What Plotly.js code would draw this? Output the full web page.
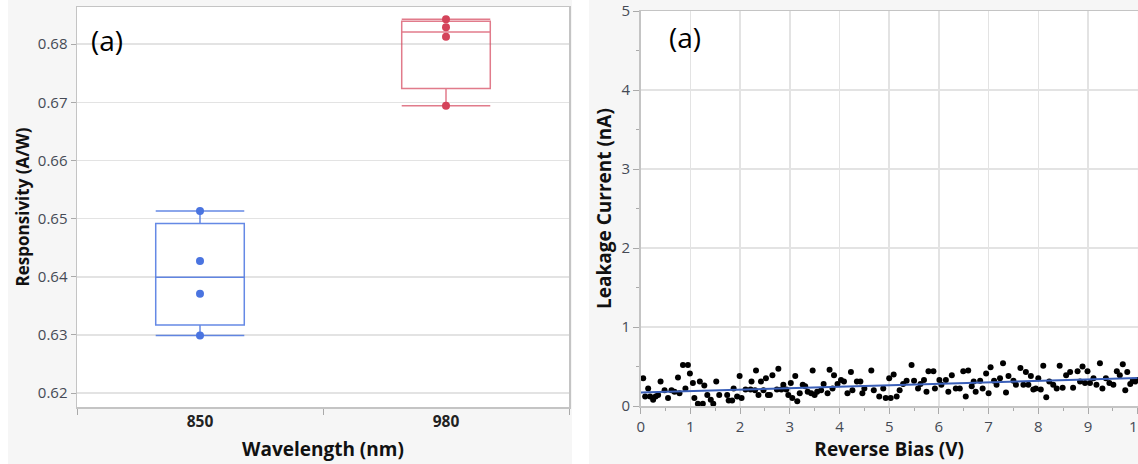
<!DOCTYPE html>
<html>
<head>
<meta charset="utf-8">
<script src="https://cdn.plot.ly/plotly-3.0.1.min.js"></script>
<style>
html,body{margin:0;padding:0;background:#fff;overflow:hidden;}
#chart{width:1138px;height:464px;}
</style>
</head>
<body>
<div id="chart"></div>
<script>
// ---- Data ----
var wavelengths = ['850', '980'];
var resp850 = [0.6513, 0.6427, 0.6371, 0.6299];
var resp980 = [0.6843, 0.6829, 0.6813, 0.6694];

var biasV = [0.05,0.09,0.15,0.19,0.25,0.30,0.35,0.40,0.48,0.55,0.62,0.68,0.75,0.78,0.85,0.90,0.95,0.99,
  1.05,1.08,1.15,1.19,1.25,1.28,1.34,1.41,1.46,1.52,1.58,1.74,1.77,1.84,1.87,1.94,1.99,
  2.03,2.11,2.21,2.23,2.30,2.32,2.37,2.42,2.47,2.52,2.56,2.60,2.65,2.74,2.77,2.83,2.87,2.93,2.97,
  3.02,3.05,3.11,3.15,3.20,3.26,3.31,3.36,3.43,3.46,3.50,3.55,3.63,3.68,3.76,3.80,3.86,3.89,3.96,
  4.03,4.09,4.16,4.23,4.26,4.35,4.42,4.46,4.50,4.64,4.69,4.80,4.88,4.93,
  5.00,5.03,5.09,5.15,5.21,5.28,5.35,5.45,5.50,5.58,5.63,5.70,5.75,5.79,5.89,5.92,
  6.01,6.05,6.14,6.19,6.26,6.34,6.42,6.49,6.54,6.59,6.66,6.70,6.74,6.83,6.88,6.95,
  7.00,7.04,7.11,7.16,7.23,7.29,7.35,7.40,7.50,7.55,7.64,7.70,7.75,7.80,7.85,7.90,7.95,
  8.00,8.05,8.10,8.16,8.22,8.30,8.37,8.43,8.49,8.56,8.64,8.70,8.79,8.84,8.89,8.94,8.99,
  9.04,9.11,9.17,9.24,9.29,9.36,9.43,9.51,9.58,9.64,9.70,9.75,9.79,9.85,9.90,9.95,10.0];
var leakNA = [0.35,0.12,0.22,0.12,0.08,0.12,0.14,0.31,0.20,0.10,0.20,0.18,0.36,0.16,0.52,0.22,0.52,0.41,
  0.29,0.10,0.03,0.31,0.03,0.26,0.14,0.08,0.03,0.31,0.14,0.14,0.07,0.07,0.22,0.12,0.38,
  0.10,0.21,0.21,0.31,0.20,0.45,0.14,0.31,0.20,0.35,0.14,0.14,0.39,0.21,0.47,0.21,0.27,0.21,0.14,
  0.29,0.10,0.38,0.06,0.16,0.27,0.25,0.18,0.16,0.45,0.14,0.18,0.20,0.28,0.16,0.46,0.22,0.39,0.28,
  0.33,0.31,0.16,0.43,0.20,0.31,0.31,0.16,0.22,0.45,0.20,0.12,0.22,0.10,
  0.35,0.10,0.40,0.12,0.20,0.28,0.32,0.52,0.32,0.22,0.28,0.33,0.18,0.44,0.44,0.22,
  0.33,0.27,0.33,0.18,0.39,0.22,0.22,0.44,0.12,0.45,0.25,0.31,0.18,0.32,0.22,0.41,
  0.16,0.49,0.32,0.27,0.35,0.54,0.17,0.38,0.32,0.27,0.48,0.27,0.43,0.27,0.38,0.21,0.22,
  0.35,0.21,0.51,0.11,0.31,0.27,0.22,0.51,0.23,0.39,0.43,0.23,0.44,0.31,0.50,0.29,0.44,
  0.29,0.35,0.27,0.54,0.22,0.35,0.29,0.27,0.44,0.39,0.53,0.20,0.43,0.28,0.32,0.31,0.33];

// fitted line endpoints
var fitX = [0, 10];
var fitY = [0.17, 0.355];

// ---- helpers ----
function quant(arr, p) { // (n+1)p positions, linear interpolation
  var s = arr.slice().sort(function(a,b){return a-b;});
  var n = s.length, pos = (n + 1) * p;
  if (pos <= 1) return s[0];
  if (pos >= n) return s[n-1];
  var lo = Math.floor(pos), f = pos - lo;
  return s[lo-1] + f * (s[lo] - s[lo-1]);
}
function stats(arr) {
  return {q1: quant(arr, 0.25), med: quant(arr, 0.5), q3: quant(arr, 0.75),
          lo: Math.min.apply(null, arr), hi: Math.max.apply(null, arr)};
}

var blue = '#4a74e0', blueLine = 'rgba(74,116,224,0.85)';
var red = '#d4435a', redLine = 'rgba(212,67,90,0.7)';

var s1 = stats(resp850), s2 = stats(resp980);
function boxTrace(cat, s, lc) {
  return {type:'box', x:[cat], q1:[s.q1], median:[s.med], q3:[s.q3],
    lowerfence:[s.lo], upperfence:[s.hi], width:0.36, whiskerwidth:1,
    boxpoints:false, fillcolor:'rgba(255,255,255,0)', line:{color:lc, width:1.5},
    xaxis:'x', yaxis:'y', showlegend:false, hoverinfo:'skip'};
}
function ptsTrace(cat, arr, c) {
  return {type:'scatter', mode:'markers', x:arr.map(function(){return cat;}), y:arr,
    marker:{color:c, size:8}, xaxis:'x', yaxis:'y', showlegend:false, hoverinfo:'skip'};
}

var traces = [
  boxTrace(wavelengths[0], s1, blueLine),
  boxTrace(wavelengths[1], s2, redLine),
  ptsTrace(wavelengths[0], resp850, blue),
  ptsTrace(wavelengths[1], resp980, red),
  {type:'scatter', mode:'markers', x:biasV, y:leakNA, marker:{color:'#000', size:6},
   xaxis:'x2', yaxis:'y2', showlegend:false, hoverinfo:'skip', cliponaxis:false},
  {type:'scatter', mode:'lines', x:fitX, y:fitY, line:{color:'#3a5fb8', width:2},
   xaxis:'x2', yaxis:'y2', showlegend:false, hoverinfo:'skip'}
];

var W = 1138, H = 464;
var FAM = 'Open Sans, Noto Sans, sans-serif';
var tickFont = {family:FAM, size:15, color:'#454a55'};

var layout = {
  width:W, height:H,
  margin:{l:0, r:0, t:0, b:0},
  paper_bgcolor:'#f6f6f6', plot_bgcolor:'#ffffff',
  showlegend:false,
  xaxis:{domain:[77/W, 569/W], type:'category', categoryorder:'array', categoryarray:wavelengths,
    range:[-0.5, 1.5], tickson:'boundaries', ticks:'outside', ticklen:6, tickcolor:'#aaa',
    showgrid:false, showline:true, mirror:true, linecolor:'#c4c4c4', linewidth:1.5,
    tickfont:{family:FAM, size:15.5, color:'#222', weight:'bold'},
    title:{text:'Wavelength (nm)', font:{family:FAM, size:19, color:'#111', weight:'bold'}, standoff:11},
    anchor:'y', zeroline:false},
  yaxis:{domain:[1-407/H, 1-7/H], range:[0.6176, 0.6864], dtick:0.01, tick0:0.62,
    tickformat:'.2f', ticks:'outside', ticklen:5, tickcolor:'#aaa',
    showgrid:true, gridcolor:'#e3e3e3', gridwidth:1.5, zeroline:false,
    showline:true, mirror:true, linecolor:'#c4c4c4', linewidth:1.5,
    tickfont:tickFont, anchor:'x',
    title:{text:'Responsivity (A/W)', font:{family:FAM, size:17, color:'#111', weight:'bold'}, standoff:4}},
  xaxis2:{domain:[640.7/W, 1137.7/W], range:[0, 10], dtick:1, tick0:0, ticks:'outside', ticklen:6,
    tickcolor:'#aaa', minor:{dtick:0.5, ticklen:3, tickcolor:'#aaa', showgrid:false, ticks:'outside'},
    showgrid:true, gridcolor:'#e3e3e3', gridwidth:1.5, zeroline:false,
    showline:true, mirror:true, linecolor:'#c4c4c4', linewidth:1.5,
    tickfont:tickFont, anchor:'y2', ticklabeloverflow:'allow',
    title:{text:'Reverse Bias (V)', font:{family:FAM, size:19, color:'#111', weight:'bold'}, standoff:8}},
  yaxis2:{domain:[1-406/H, 1-11/H], range:[0, 5], dtick:1, tick0:0, ticks:'outside', ticklen:6,
    tickcolor:'#aaa', minor:{dtick:0.5, ticklen:3, tickcolor:'#aaa', showgrid:false, ticks:'outside'},
    showgrid:true, gridcolor:'#e3e3e3', gridwidth:1.5, zeroline:false,
    showline:true, mirror:true, linecolor:'#c4c4c4', linewidth:1.5,
    tickfont:tickFont, anchor:'x2',
    title:{text:'Leakage Current (nA)', font:{family:FAM, size:19, color:'#111', weight:'bold'}, standoff:5}},
  shapes:[
    {type:'rect', xref:'paper', yref:'paper', x0:0, x1:8/W, y0:0, y1:1, fillcolor:'#fff', line:{width:0}, layer:'below'},
    {type:'rect', xref:'paper', yref:'paper', x0:572/W, x1:589/W, y0:0, y1:1, fillcolor:'#fff', line:{width:0}, layer:'below'}
  ],
  annotations:[
    {xref:'paper', yref:'paper', x:107/W, y:1-40/H, text:'(a)', showarrow:false,
     font:{family:FAM, size:28, color:'#000'}, xanchor:'center', yanchor:'middle'},
    {xref:'paper', yref:'paper', x:685/W, y:1-37/H, text:'(a)', showarrow:false,
     font:{family:FAM, size:28, color:'#000'}, xanchor:'center', yanchor:'middle'}
  ]
};

Plotly.newPlot('chart', traces, layout, {staticPlot:true, displayModeBar:false});
</script>
</body>
</html>
